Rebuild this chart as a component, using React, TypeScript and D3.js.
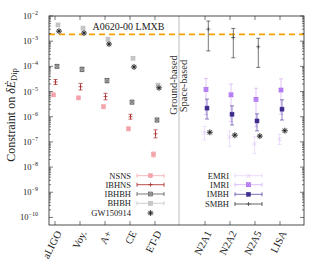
import React from "react";
import { scaleLinear, scaleLog, range } from "d3";

// detectors (x categories)
const groundNames = ["aLIGO", "Voy.", "A+", "CE", "ET-D"];
const spaceNames = ["N2A1", "N2A2", "N2A5", "LISA"];
const yTickExps = [-10, -9, -8, -7, -6, -5, -4, -3, -2];

// ground-based constraints
const nsns = [7.4e-6, 5.6e-6, 2.5e-6, 3.3e-7, 3.2e-8];
const nsnsLo = [6.4e-6, 4.8e-6, 2.1e-6, 2.8e-7, 2.5e-8];
const nsnsHi = [8.6e-6, 6.5e-6, 2.9e-6, 3.9e-7, 4.0e-8];
const ibhns = [2.4e-5, 1.55e-5, 6.3e-6, 1.0e-6, 2.1e-7];
const ibhnsLo = [1.9e-5, 1.15e-5, 4.7e-6, 8.0e-7, 1.45e-7];
const ibhnsHi = [3.0e-5, 2.1e-5, 8.5e-6, 1.25e-6, 3.0e-7];
const ibhbh = [1.0e-4, 7.6e-5, 2.7e-5, 3.8e-6, 7.4e-7];
const ibhbhLo = [8.5e-5, 6.2e-5, 2.2e-5, 3.2e-6, 6.2e-7];
const ibhbhHi = [1.2e-4, 9.3e-5, 3.3e-5, 4.5e-6, 8.8e-7];
const bhbh = [4.4e-3, 3.3e-3, 1.2e-3, 2.1e-4, 1.8e-5];
const gwGround = [2.5e-3, 2.1e-3, 7.7e-4, 9.5e-5, 1.4e-5];

// space-based constraints
const emri = [2.3e-7, 1.55e-7, 8.3e-8, 1.3e-7];
const emriLo = [1.2e-7, 6.5e-8, 3.5e-8, 7.9e-8];
const emriHi = [4.1e-7, 2.75e-7, 1.6e-7, 2.0e-7];
const imri = [1.2e-5, 7.4e-6, 4.9e-6, 1.15e-5];
const imriLo = [1.2e-6, 6.3e-7, 4.0e-7, 1.25e-6];
const imriHi = [3.3e-5, 2.0e-5, 1.35e-5, 3.2e-5];
const imbh = [2.2e-6, 1.26e-6, 6.8e-7, 2.0e-6];
const imbhLo = [8.1e-7, 4.7e-7, 2.75e-7, 7.4e-7];
const imbhHi = [5.0e-6, 2.7e-6, 1.3e-6, 4.7e-6];
const smbh = [3.0e-3, 1.4e-3, 6.0e-4, null];
const smbhLo = [4.1e-4, 2.2e-4, 9.1e-5, null];
const smbhHi = [6.3e-3, 3.2e-3, 1.3e-3, null];
const gwSpace = [2.4e-7, 1.85e-7, 1.7e-7, 2.8e-7];

const lmxb = 1.87e-3;

const W = 313;
const H = 269;
const m = { left: 49, right: 304, top: 16, bottom: 225 };
const font = "'Liberation Serif', 'Times New Roman', serif";

const x = scaleLinear().domain([-0.24, 9.96]).range([m.left, m.right]);
const y = scaleLog().domain([Math.pow(10, -10.3), 1e-2]).range([m.bottom, m.top]);

type Marker = "square" | "plus" | "xsquare" | "asterisk" | "cross" | "none";

function Mark({ type, cx, cy, color, fill }: { type: Marker; cx: number; cy: number; color: string; fill?: string }) {
  const s = 2;
  if (type === "square")
    return <rect x={cx - s} y={cy - s} width={2 * s} height={2 * s} fill={fill || color} stroke={color} strokeWidth={0.5} />;
  if (type === "xsquare")
    return (
      <g stroke={color} strokeWidth={0.6} fill={fill || "none"}>
        <rect x={cx - s} y={cy - s} width={2 * s} height={2 * s} />
        <path d={`M${cx - s},${cy - s}L${cx + s},${cy + s}M${cx - s},${cy + s}L${cx + s},${cy - s}`} />
      </g>
    );
  if (type === "plus")
    return <path d={`M${cx - 2},${cy}H${cx + 2}M${cx},${cy - 2}V${cy + 2}`} stroke={color} strokeWidth={0.7} />;
  if (type === "cross")
    return (
      <path
        d={`M${cx - 2},${cy - 2}L${cx + 2},${cy + 2}M${cx - 2},${cy + 2}L${cx + 2},${cy - 2}`}
        stroke={color}
        strokeWidth={0.7}
      />
    );
  if (type === "asterisk") {
    const r = 3;
    const d = [0, 45, 90, 135]
      .map((a) => {
        const dx = r * Math.cos((a * Math.PI) / 180);
        const dy = r * Math.sin((a * Math.PI) / 180);
        return `M${cx - dx},${cy - dy}L${cx + dx},${cy + dy}`;
      })
      .join("");
    return (
      <g>
        <circle cx={cx} cy={cy} r={2.6} fill="#c8c8c8" />
        <path d={d} stroke={color} strokeWidth={0.7} />
      </g>
    );
  }
  return null;
}

type Series = {
  name: string;
  slot0: number;
  off: number;
  vals: (number | null)[];
  lo?: (number | null)[];
  hi?: (number | null)[];
  color: string;
  barColor: string;
  fill?: string;
  marker: Marker;
  legendLine: boolean;
};

const groundSeries: Series[] = [
  { name: "NSNS", slot0: 0, off: -1.5, vals: nsns, lo: nsnsLo, hi: nsnsHi, color: "#f4a3aa", barColor: "#f4a3aa", marker: "square", legendLine: true },
  { name: "IBHNS", slot0: 0, off: 0.5, vals: ibhns, lo: ibhnsLo, hi: ibhnsHi, color: "#a8201f", barColor: "#a8201f", marker: "plus", legendLine: true },
  { name: "IBHBH", slot0: 0, off: 2, vals: ibhbh, lo: ibhbhLo, hi: ibhbhHi, color: "#555555", barColor: "#555555", fill: "#bbbbbb", marker: "xsquare", legendLine: true },
  { name: "BHBH", slot0: 0, off: 3, vals: bhbh, color: "#b8b8b8", barColor: "#c4c4c4", fill: "#cfcfcf", marker: "xsquare", legendLine: true },
  { name: "GW150914", slot0: 0, off: 4, vals: gwGround, color: "#111111", barColor: "#111111", marker: "asterisk", legendLine: false },
];

const spaceSeries: Series[] = [
  { name: "EMRI", slot0: 6, off: -0.5, vals: emri, lo: emriLo, hi: emriHi, color: "#dcc0f7", barColor: "#e6d2fa", marker: "cross", legendLine: true },
  { name: "IMRI", slot0: 6, off: 1, vals: imri, lo: imriLo, hi: imriHi, color: "#a45df0", barColor: "#d2adf7", fill: "#c79af5", marker: "xsquare", legendLine: true },
  { name: "IMBH", slot0: 6, off: 2, vals: imbh, lo: imbhLo, hi: imbhHi, color: "#3d2c8d", barColor: "#5a48a8", marker: "square", legendLine: true },
  { name: "SMBH", slot0: 6, off: 3.3, vals: smbh, lo: smbhLo, hi: smbhHi, color: "#3c3c3c", barColor: "#3c3c3c", marker: "plus", legendLine: true },
];

const gwSpaceSeries: Series = { name: "GW150914", slot0: 6, off: 4.8, vals: gwSpace, color: "#111111", barColor: "#111111", marker: "asterisk", legendLine: false };

function SeriesMarks({ s }: { s: Series }) {
  return (
    <g>
      {s.vals.map((v, i) => {
        if (v == null) return null;
        const cx = x(s.slot0 + i) + s.off;
        const cy = y(v);
        const lo = s.lo ? s.lo[i] : null;
        const hi = s.hi ? s.hi[i] : null;
        return (
          <g key={i}>
            {lo != null && hi != null && (
              <path
                d={`M${cx},${y(hi)}V${y(lo)}M${cx - 2},${y(hi)}H${cx + 2}M${cx - 2},${y(lo)}H${cx + 2}`}
                stroke={s.barColor}
                strokeWidth={0.7}
                fill="none"
              />
            )}
            <Mark type={s.marker} cx={cx} cy={cy} color={s.color} fill={s.fill} />
          </g>
        );
      })}
    </g>
  );
}

function Legend({ items, textX, lineX0, lineX1, rowY }: { items: Series[]; textX: number; lineX0: number; lineX1: number; rowY: number[] }) {
  const mx = (lineX0 + lineX1) / 2;
  return (
    <g fontFamily={font} fontSize={8.5}>
      {items.map((s, i) => (
        <g key={s.name}>
          <text x={textX} y={rowY[i] + 3} textAnchor="end" fill="#222">
            {s.name}
          </text>
          {s.legendLine && (
            <path
              d={`M${lineX0},${rowY[i]}H${lineX1}M${lineX0},${rowY[i] - 2}V${rowY[i] + 2}M${lineX1},${rowY[i] - 2}V${rowY[i] + 2}`}
              stroke={s.barColor}
              strokeWidth={0.8}
            />
          )}
          <Mark type={s.marker} cx={mx} cy={rowY[i]} color={s.color} fill={s.fill} />
        </g>
      ))}
    </g>
  );
}

export default function App() {
  const slots = [...groundNames.map((n, i) => ({ n, i })), ...spaceNames.map((n, i) => ({ n, i: i + 6 }))];
  const minor: number[] = [];
  yTickExps.forEach((e) => range(2, 10).forEach((k) => minor.push(k * Math.pow(10, e))));
  const minorIn = minor.filter((v) => y(v) >= m.top && y(v) <= m.bottom);
  const divX = x(4.96);

  return (
    <svg width={W} height={H} style={{ position: "absolute", left: 0, top: 0, background: "#fff" }}>
      {/* divider */}
      <line x1={divX} x2={divX} y1={m.top} y2={m.bottom} stroke="#aaaaaa" strokeWidth={0.8} />
      <g fontFamily={font} fontSize={10.5} fill="#333">
        <text transform={`translate(${divX - 2},85) rotate(-90)`} textAnchor="middle">
          Ground-based
        </text>
        <text transform={`translate(${divX + 8},86) rotate(-90)`} textAnchor="middle">
          Space-based
        </text>
      </g>

      {/* LMXB line */}
      <line x1={m.left} x2={m.right} y1={y(lmxb)} y2={y(lmxb)} stroke="#f5a100" strokeWidth={1.6} strokeDasharray="6,4" />
      <text x={92.5} y={29.5} fontFamily={font} fontSize={10} fill="#222">
        A0620-00 LMXB
      </text>

      {groundSeries.map((s) => (
        <SeriesMarks key={s.name} s={s} />
      ))}
      {spaceSeries.map((s) => (
        <SeriesMarks key={s.name} s={s} />
      ))}
      <SeriesMarks s={gwSpaceSeries} />

      <Legend items={groundSeries} textX={131} lineX0={137} lineX1={164} rowY={[175.7, 184.7, 194, 203.3, 213]} />
      <Legend items={spaceSeries} textX={229} lineX0={235} lineX1={262} rowY={[175.7, 184.7, 194.3, 204]} />

      {/* frame and ticks */}
      <rect x={m.left} y={m.top} width={m.right - m.left} height={m.bottom - m.top} fill="none" stroke="#222" strokeWidth={0.8} />
      <g stroke="#222" strokeWidth={0.6}>
        {slots.map((s) => (
          <g key={s.n}>
            <line x1={x(s.i)} x2={x(s.i)} y1={m.top} y2={m.top + 4} />
            <line x1={x(s.i)} x2={x(s.i)} y1={m.bottom} y2={m.bottom - 4} />
          </g>
        ))}
        {yTickExps.map((e) => (
          <g key={e}>
            <line x1={m.left} x2={m.left + 4} y1={y(Math.pow(10, e))} y2={y(Math.pow(10, e))} />
            <line x1={m.right} x2={m.right - 4} y1={y(Math.pow(10, e))} y2={y(Math.pow(10, e))} />
          </g>
        ))}
        {minorIn.map((v, i) => (
          <g key={i}>
            <line x1={m.left} x2={m.left + 2} y1={y(v)} y2={y(v)} />
            <line x1={m.right} x2={m.right - 2} y1={y(v)} y2={y(v)} />
          </g>
        ))}
      </g>

      {/* y tick labels */}
      <g fontFamily={font} fill="#222">
        {yTickExps.map((e) => (
          <text key={e} x={38} y={y(Math.pow(10, e)) + 3} textAnchor="end" fontSize={8.5}>
            10
            <tspan fontSize={6} dy={-4}>
              {"\u2212" + Math.abs(e)}
            </tspan>
          </text>
        ))}
      </g>

      {/* x tick labels */}
      <g fontFamily={font} fontSize={10.5} fill="#222">
        {slots.map((s) => (
          <text key={s.n} transform={`translate(${x(s.i) + 7},233) rotate(-63)`} textAnchor="end">
            {s.n}
          </text>
        ))}
      </g>

      {/* y axis label */}
      <text transform="translate(15,115) rotate(-90)" textAnchor="middle" fontFamily={font} fontSize={12} fill="#222">
        Constraint on <tspan fontStyle="italic">δĖ</tspan>
        <tspan fontSize={8.5} dy={2}>
          Dip
        </tspan>
      </text>
    </svg>
  );
}
